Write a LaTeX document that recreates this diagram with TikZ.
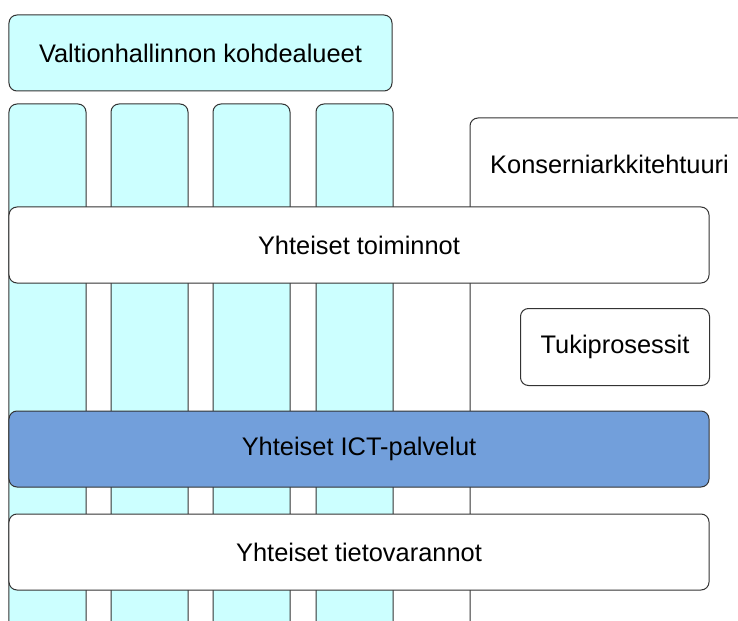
\documentclass[tikz,border=0pt]{standalone}
\usepackage{fontspec}
\setmainfont{Liberation Sans}
\usetikzlibrary{positioning}
\definecolor{kohde}{HTML}{CCFFFF}
\definecolor{ictblue}{HTML}{729FDB}
\tikzset{
  lohko/.style={draw=black!80,line width=1bp,rounded corners=8bp,inner sep=0pt,outer sep=0pt,
    font=\fontsize{25.5}{30}\selectfont},
  palkki/.style={lohko,fill=white,minimum width=700bp,minimum height=76bp}
}
\begin{document}
\begin{tikzpicture}[x=1bp,y=-1bp]
\useasboundingbox (0,0) rectangle (738,621);
\clip (0,0) rectangle (738,621);
\node[lohko,fill=kohde,minimum width=383bp,minimum height=76bp] (valtio) at (200.5,53) {Valtionhallinnon kohdealueet};
% pystysarakkeet
\node[lohko,fill=kohde,minimum width=77bp,minimum height=560bp] (col1) at (47.5,384) {};
\node[lohko,fill=kohde,minimum width=77bp,minimum height=560bp] (col2) at (149.5,384) {};
\node[lohko,fill=kohde,minimum width=77bp,minimum height=560bp] (col3) at (251.5,384) {};
\node[lohko,fill=kohde,minimum width=77bp,minimum height=560bp] (col4) at (354.5,384) {};
% konserniarkkitehtuuri
\node[lohko,fill=white,minimum width=320bp,minimum height=560bp] (konserni) at (630,398) {};
\node[font=\fontsize{25.5}{30}\selectfont,inner sep=0pt,anchor=west] (konsernitxt) at (490,164) {Konserniarkkitehtuuri};
% vaakapalkit
\node[palkki] (toiminnot) at (359,245) {Yhteiset toiminnot};
\node[lohko,fill=white,minimum width=189bp,minimum height=77bp] (tuki) at (615,347) {Tukiprosessit};
\node[palkki,fill=ictblue] (ict) at (359,449) {Yhteiset ICT-palvelut};
\node[palkki] (tieto) at (359,552) {Yhteiset tietovarannot};
\end{tikzpicture}
\end{document}
